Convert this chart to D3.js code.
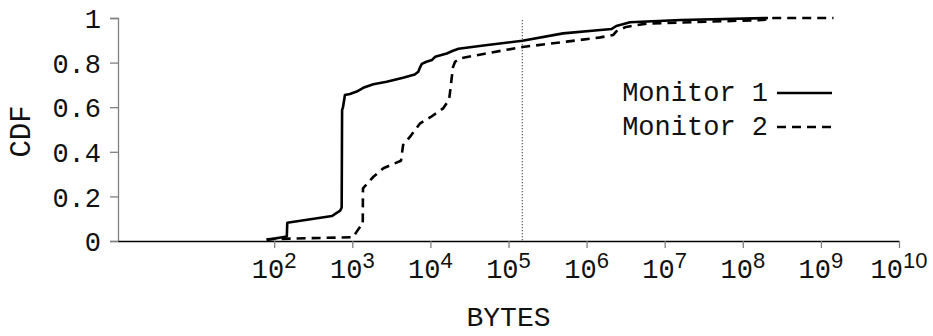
<!DOCTYPE html>
<html>
<head>
<meta charset="utf-8">
<script src="https://cdn.jsdelivr.net/npm/d3@7"></script>
<style>
  html, body { margin: 0; padding: 0; background: #fff; }
  svg { display: block; }
</style>
</head>
<body>
<svg id="chart" width="933" height="336"></svg>
<script>
// CDF of transfer sizes (bytes) seen by two monitors
const monitor1Bytes = [80, 145, 147, 550, 617, 700, 731, 740, 760, 805, 933, 1140, 1380, 1860, 2750, 4470, 6300, 7000, 7400, 7760, 8900, 10500, 11500, 16200, 19500, 22900, 47900, 151000, 500000, 1500000, 2100000, 2400000, 3600000, 16000000, 210000000];
const monitor1Cdf   = [0.005, 0.02, 0.082, 0.112, 0.124, 0.136, 0.15, 0.587, 0.60, 0.655, 0.659, 0.67, 0.687, 0.703, 0.714, 0.732, 0.747, 0.759, 0.78, 0.794, 0.804, 0.812, 0.826, 0.841, 0.853, 0.862, 0.877, 0.898, 0.931, 0.946, 0.951, 0.964, 0.981, 0.991, 1.0];

const monitor2Bytes = [80, 1020, 1140, 1260, 1360, 1370, 1860, 2500, 4200, 4470, 5500, 7400, 10000, 14600, 17400, 18600, 19500, 20700, 24000, 47900, 151000, 556000, 1500000, 2200000, 2400000, 3200000, 5900000, 180000000, 250000000, 1450000000];
const monitor2Cdf   = [0.008, 0.017, 0.042, 0.064, 0.07, 0.236, 0.288, 0.326, 0.36, 0.43, 0.468, 0.528, 0.555, 0.595, 0.635, 0.722, 0.78, 0.804, 0.819, 0.839, 0.87, 0.894, 0.913, 0.924, 0.94, 0.96, 0.975, 0.991, 1.0, 1.0];

const seriesNames = ["Monitor 1", "Monitor 2"];
const xTickExponents = [2, 3, 4, 5, 6, 7, 8, 9, 10];
const yTickValues = [0, 0.2, 0.4, 0.6, 0.8, 1];
const markerBytes = 150000;   // vertical reference line

const svg = d3.select("#chart");
const plotLeft = 118, plotRight = 899, plotTop = 18, plotBottom = 241;
const monoFont = '"Liberation Mono", "Courier New", monospace';
const sansFont = '"Liberation Sans", Arial, sans-serif';

const x = d3.scaleLog().domain([1, 1e10]).range([plotLeft, plotRight]);
const y = d3.scaleLinear().domain([0, 1]).range([plotBottom, plotTop]);

// Y axis
const yAxis = svg.append("g")
  .attr("transform", `translate(${plotLeft},0)`)
  .call(d3.axisLeft(y).tickValues(yTickValues).tickSize(8).tickPadding(9)
    .tickFormat(d => (d === 0 || d === 1) ? String(d) : d3.format(".1f")(d)));
yAxis.select(".domain").attr("stroke", "#808080").attr("stroke-width", 1.3);
yAxis.selectAll(".tick line").attr("stroke", "#808080").attr("stroke-width", 1.3);
yAxis.selectAll(".tick text")
  .attr("font-family", monoFont).attr("font-size", 27).attr("fill", "#111")
  .attr("dy", "0.36em");

// X axis
const xAxis = svg.append("g")
  .attr("transform", `translate(0,${plotBottom})`)
  .call(d3.axisBottom(x).tickValues(xTickExponents.map(e => Math.pow(10, e)))
    .tickSize(7).tickSizeOuter(0).tickFormat(""));
xAxis.select(".domain").attr("stroke", "#000").attr("stroke-width", 1.3);
xAxis.selectAll(".tick line").attr("stroke", "#808080").attr("stroke-width", 1.3);

// power-of-ten labels: "10" with a raised exponent
const xLabels = svg.append("g");
xTickExponents.forEach(e => {
  const t = xLabels.append("text")
    .attr("x", x(Math.pow(10, e)))
    .attr("y", 278)
    .attr("text-anchor", "middle")
    .attr("fill", "#111");
  t.append("tspan").attr("font-family", monoFont).attr("font-size", 27).text("10");
  t.append("tspan").attr("font-family", sansFont).attr("font-size", 22)
    .attr("dy", -10).text(String(e));
});

// axis titles
svg.append("text")
  .attr("x", (plotLeft + plotRight) / 2).attr("y", 326)
  .attr("text-anchor", "middle")
  .attr("font-family", monoFont).attr("font-size", 28).attr("fill", "#111")
  .text("BYTES");
svg.append("text")
  .attr("transform", `translate(30,${(plotTop + plotBottom) / 2 + 2}) rotate(-90)`)
  .attr("text-anchor", "middle")
  .attr("font-family", monoFont).attr("font-size", 29).attr("fill", "#111")
  .text("CDF");

// vertical marker
svg.append("line")
  .attr("x1", x(markerBytes)).attr("x2", x(markerBytes))
  .attr("y1", y(0.99)).attr("y2", y(0))
  .attr("stroke", "#000").attr("stroke-width", 1)
  .attr("stroke-dasharray", "1,2");

// curves
const line = d3.line().x(d => x(d[0])).y(d => y(d[1]));
const series = [
  { name: seriesNames[0], pts: d3.zip(monitor1Bytes, monitor1Cdf), dash: null },
  { name: seriesNames[1], pts: d3.zip(monitor2Bytes, monitor2Cdf), dash: "9,6" }
];
series.forEach(s => {
  svg.append("path")
    .attr("d", line(s.pts))
    .attr("fill", "none")
    .attr("stroke", "#000")
    .attr("stroke-width", 2.6)
    .attr("stroke-linejoin", "round")
    .attr("stroke-dasharray", s.dash);
});

// legend
const legend = svg.append("g");
series.forEach((s, i) => {
  const ly = 101 + i * 34;
  legend.append("text")
    .attr("x", 768).attr("y", ly)
    .attr("text-anchor", "end")
    .attr("font-family", monoFont).attr("font-size", 27).attr("fill", "#111")
    .text(s.name);
  legend.append("line")
    .attr("x1", 777).attr("x2", 832)
    .attr("y1", ly - 8).attr("y2", ly - 8)
    .attr("stroke", "#000").attr("stroke-width", 2.6)
    .attr("stroke-dasharray", s.dash);
});
</script>
</body>
</html>
